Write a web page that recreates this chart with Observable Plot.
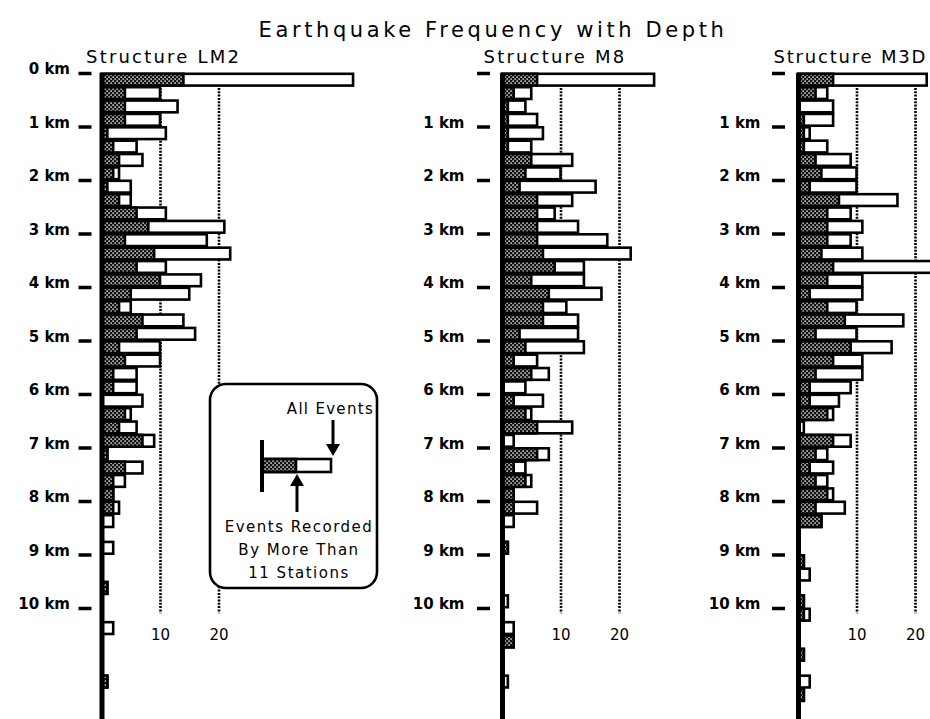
<!DOCTYPE html>
<html>
<head>
<meta charset="utf-8">
<script src="https://cdn.jsdelivr.net/npm/d3@7"></script>
<script src="https://cdn.jsdelivr.net/npm/@observablehq/plot@0.6"></script>
<style>
  body { margin: 0; background: #fff; }
  #chart { position: relative; width: 930px; height: 719px; overflow: hidden; background: #fff;
           font-family: "DejaVu Sans", sans-serif; }
  #chart > svg { position: absolute; top: 0; }
</style>
</head>
<body>
<div id="chart"></div>
<script>
// Depth bins (top of each 0.25 km bin), in km
const depthTop = [
  0, 0.25, 0.5, 0.75, 1, 1.25, 1.5, 1.75, 2, 2.25, 2.5, 2.75,
  3, 3.25, 3.5, 3.75, 4, 4.25, 4.5, 4.75, 5, 5.25, 5.5, 5.75,
  6, 6.25, 6.5, 6.75, 7, 7.25, 7.5, 7.75, 8, 8.25, 8.5, 8.75,
  9, 9.25, 9.5, 9.75, 10, 10.25, 10.5, 10.75, 11, 11.25, 11.5, 11.75
];
const binKm = 0.25;

// Structure LM2
const lm2All = [43, 10, 13, 10, 11, 6, 7, 3, 5, 5, 11, 21, 18, 22, 11, 17, 15, 5, 14, 16, 10, 10, 6, 6,
                7, 5, 6, 9, 1, 7, 4, 2, 3, 2, 0, 2, 0, 0, 1, 0, 0, 2, 0, 0, 0, 1, 0, 0];
const lm2Over11 = [14, 4, 4, 4, 1, 2, 3, 2, 1, 3, 6, 8, 4, 9, 6, 10, 5, 3, 7, 6, 3, 4, 2, 2,
                   0, 4, 3, 7, 1, 4, 2, 2, 2, 0, 0, 0, 0, 0, 1, 0, 0, 0, 0, 0, 0, 1, 0, 0];

// Structure M8
const m8All = [26, 5, 4, 6, 7, 5, 12, 10, 16, 12, 9, 13, 18, 22, 14, 14, 17, 11, 13, 13, 14, 6, 8, 4,
               7, 5, 12, 2, 8, 4, 5, 2, 6, 2, 0, 1, 0, 0, 0, 1, 0, 2, 2, 0, 0, 1, 0, 0];
const m8Over11 = [6, 2, 1, 1, 1, 1, 5, 4, 3, 6, 6, 6, 6, 7, 9, 5, 8, 7, 7, 3, 4, 2, 5, 0,
                  2, 4, 6, 0, 6, 2, 4, 2, 2, 0, 0, 1, 0, 0, 0, 0, 0, 0, 2, 0, 0, 0, 0, 0];

// Structure M3D
const m3dAll = [22, 5, 6, 6, 2, 5, 9, 10, 10, 17, 9, 11, 9, 11, 23, 11, 11, 10, 18, 10, 16, 11, 11, 9,
                7, 6, 1, 9, 5, 6, 5, 6, 8, 4, 0, 0, 1, 2, 0, 1, 2, 0, 0, 1, 0, 2, 1, 0];
const m3dOver11 = [6, 3, 0, 1, 1, 1, 3, 4, 2, 7, 5, 5, 5, 4, 6, 5, 2, 5, 8, 3, 9, 6, 3, 2,
                   2, 5, 0, 6, 3, 2, 3, 5, 3, 4, 0, 0, 1, 0, 0, 1, 1, 0, 0, 1, 0, 0, 1, 0];

// Axis ticks and labels
const kmTicks = [0, 1, 2, 3, 4, 5, 6, 7, 8, 9, 10];
const countTicks = [10, 20];
const panelNames = ["Structure LM2", "Structure M8", "Structure M3D"];
const chartTitle = "Earthquake Frequency with Depth";
const legendTop = "All Events";
const legendBottom = ["Events Recorded", "By More Than", "11 Stations"];

// Layout constants
const H = 719, TOP = 73, KM_PX = 53.5, PX_PER_EVENT = 5.85;
const yMax = (H - TOP) / KM_PX;
const FONT = "DejaVu Sans, sans-serif";

const chart = d3.select("#chart");

// Shared stipple fill for the "more than 11 stations" bars
const defs = chart.append("svg").attr("width", 0).attr("height", 0).style("position", "absolute").append("defs");
const pat = defs.append("pattern").attr("id", "stipple").attr("patternUnits", "userSpaceOnUse")
  .attr("width", 4).attr("height", 4);
pat.append("rect").attr("width", 4).attr("height", 4).attr("fill", "#111");
pat.append("rect").attr("x", 0.4).attr("y", 0.4).attr("width", 1.4).attr("height", 1.4).attr("fill", "#fff");
pat.append("rect").attr("x", 2.4).attr("y", 2.4).attr("width", 1.4).attr("height", 1.4).attr("fill", "#fff");

function panel({left, width, zero, all, over, name, titleDx, titleSpacing, showZeroLabel, labelGap, tickGap}) {
  const rows = depthTop.map((d, i) => ({top: d, bot: d + binKm, all: all[i], over: over[i]}));
  const mL = zero - left;
  const xMax = (width - mL) / PX_PER_EVENT;
  const svg = Plot.plot({
    width, height: H,
    marginLeft: mL, marginRight: 0, marginTop: TOP, marginBottom: 0,
    style: {fontFamily: FONT, fontSize: "14px", background: "transparent", overflow: "visible", color: "black"},
    x: {domain: [0, xMax], axis: null},
    y: {domain: [0, yMax], reverse: true, axis: null},
    marks: [
      // dotted reference lines at 10 and 20 events
      Plot.ruleX(countTicks, {y1: 0.28, y2: 10.1, stroke: "black", strokeWidth: 2.6, strokeDasharray: "2 1.3"}),
      Plot.text(countTicks, {x: d => d, y: 10.5, text: d => `${d}`, fontSize: 15, fill: "black"}),
      // all events
      Plot.rect(rows.filter(d => d.all > 0), {
        x1: 0, x2: "all", y1: "top", y2: "bot",
        fill: "white", stroke: "black", strokeWidth: 2.6, insetTop: 0.8, insetBottom: 0.8
      }),
      // events recorded by more than 11 stations
      Plot.rect(rows.filter(d => d.over > 0), {
        x1: 0, x2: "over", y1: "top", y2: "bot",
        fill: "url(#stipple)", stroke: "black", strokeWidth: 2.6, insetTop: 0.8, insetBottom: 0.8
      }),
      // zero line
      Plot.ruleX([0], {stroke: "black", strokeWidth: 5}),
      // depth tick dashes
      Plot.axisY(kmTicks, {tickSize: 13, dx: -tickGap, strokeWidth: 3.5, stroke: "black", tickFormat: () => ""}),
      // depth labels
      Plot.axisY(kmTicks, {
        tickSize: 0, tickPadding: labelGap, dy: -4, fontSize: 15, fontWeight: "bold", fill: "black",
        tickFormat: d => (d === 0 && !showZeroLabel) ? "" : `${d} km`
      }),
      // panel title
      Plot.text([name], {x: 0, y: 0, dx: titleDx, dy: -16, textAnchor: "start", fontSize: 18, fill: "black"})
    ]
  });
  d3.select(svg).selectAll("text").filter(function() { return this.textContent === name; })
    .style("letter-spacing", titleSpacing + "px");
  svg.style.left = left + "px";
  chart.node().appendChild(svg);
}

panel({left: 0, width: 380, zero: 101.5, all: lm2All, over: lm2Over11, name: panelNames[0], titleDx: -16, titleSpacing: 2.2, showZeroLabel: true, labelGap: 32, tickGap: 10});
panel({left: 380, width: 300, zero: 502, all: m8All, over: m8Over11, name: panelNames[1], titleDx: -19, titleSpacing: 2.2, showZeroLabel: false, labelGap: 38, tickGap: 12});
panel({left: 680, width: 250, zero: 798, all: m3dAll, over: m3dOver11, name: panelNames[2], titleDx: -25, titleSpacing: 1.8, showZeroLabel: false, labelGap: 38, tickGap: 13});

// Title and legend overlay
const ov = chart.append("svg").attr("width", 930).attr("height", H).style("left", "0px")
  .attr("font-family", FONT).style("pointer-events", "none");

ov.append("text").attr("x", 493).attr("y", 37).attr("text-anchor", "middle")
  .attr("font-size", 21).style("letter-spacing", "3.6px").text(chartTitle);

const lg = ov.append("g");
lg.append("rect").attr("x", 210).attr("y", 384).attr("width", 167).attr("height", 204).attr("rx", 16)
  .attr("fill", "white").attr("stroke", "black").attr("stroke-width", 2.6);
lg.append("text").attr("x", 374).attr("y", 414).attr("text-anchor", "end").attr("font-size", 15)
  .style("letter-spacing", "1.3px").text(legendTop);
// arrow to the end of the "all events" bar
lg.append("line").attr("x1", 333).attr("x2", 333).attr("y1", 420).attr("y2", 446).attr("stroke", "black").attr("stroke-width", 3);
lg.append("path").attr("d", "M326,444 L340,444 L333,456 Z").attr("fill", "black");
// sample bar
lg.append("rect").attr("x", 262).attr("y", 459).attr("width", 69).attr("height", 13)
  .attr("fill", "white").attr("stroke", "black").attr("stroke-width", 2.6);
lg.append("rect").attr("x", 262).attr("y", 459).attr("width", 34).attr("height", 13)
  .attr("fill", "url(#stipple)").attr("stroke", "black").attr("stroke-width", 2.6);
lg.append("line").attr("x1", 262).attr("x2", 262).attr("y1", 440).attr("y2", 492).attr("stroke", "black").attr("stroke-width", 4);
// arrow to the end of the "more than 11 stations" bar
lg.append("line").attr("x1", 297).attr("x2", 297).attr("y1", 484).attr("y2", 512).attr("stroke", "black").attr("stroke-width", 3);
lg.append("path").attr("d", "M290,486 L304,486 L297,474 Z").attr("fill", "black");
legendBottom.forEach((t, i) => {
  lg.append("text").attr("x", 299).attr("y", 532 + i * 23).attr("text-anchor", "middle")
    .attr("font-size", 15).style("letter-spacing", "1.5px").text(t);
});
</script>
</body>
</html>
